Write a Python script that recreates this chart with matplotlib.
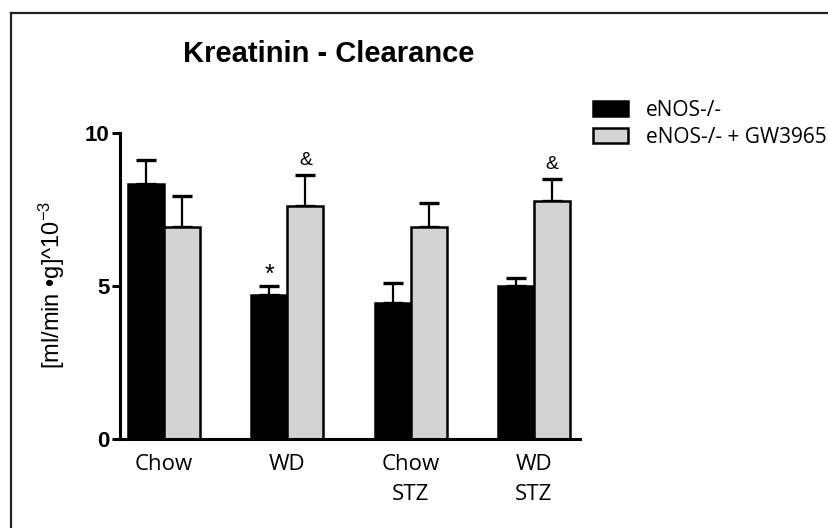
#!/usr/bin/env python3
"""Kreatinin clearance bar chart (eNOS-/- vs eNOS-/- + GW3965)."""

import numpy as np
import matplotlib
matplotlib.use("Agg")
import matplotlib.pyplot as plt
from matplotlib.lines import Line2D

# data
groups = ["Chow", "WD", "Chow\nSTZ", "WD\nSTZ"]
series_names = ["eNOS-/-", "eNOS-/- + GW3965"]
enos_mean = [8.32, 4.70, 4.43, 4.99]
enos_sem = [0.77, 0.30, 0.67, 0.25]
gw_mean = [6.93, 7.59, 6.93, 7.77]
gw_sem = [1.00, 1.01, 0.78, 0.70]
y_ticks = [0, 5, 10]

# (group index, series index, symbol)
marks = [(1, 0, "*"), (1, 1, "&"), (3, 1, "&")]

SANS = "Liberation Sans"
HUMAN = "Open Sans"

plt.rcParams["mathtext.fontset"] = "custom"
plt.rcParams["mathtext.rm"] = SANS
plt.rcParams["mathtext.it"] = SANS + ":italic"
plt.rcParams["mathtext.bf"] = SANS + ":bold"


def main():
    fig = plt.figure(figsize=(8.29, 5.28), dpi=100)
    ax = fig.add_axes([0.1448, 0.1686, 0.5549, 0.5804])

    x = np.arange(len(groups))
    w = 0.292
    means = [enos_mean, gw_mean]
    sems = [enos_sem, gw_sem]
    colors = ["black", "#d3d3d3"]

    for k in range(2):
        xs = x + (k - 0.5) * w
        ax.bar(xs, means[k], width=w, color=colors[k], edgecolor="black",
               linewidth=1.8, label=series_names[k], zorder=2)
        ax.errorbar(xs, means[k], yerr=[np.zeros(len(groups)), sems[k]],
                    fmt="none", ecolor="black", elinewidth=1.6,
                    capsize=7.2, capthick=2.4, zorder=1)

    # significance marks
    sizes = {"*": 18, "&": 14}
    offs = {"*": 2.5, "&": 7.5}
    for g, s, sym in marks:
        top = means[s][g] + sems[s][g]
        ax.annotate(sym, (x[g] + (s - 0.5) * w, top), xytext=(0, offs[sym]),
                    textcoords="offset points", ha="center", va="baseline",
                    fontsize=sizes[sym], family=SANS)

    ax.set_xlim(-0.357, 3.374)
    ax.set_ylim(0, 10)
    ax.set_yticks(y_ticks)
    ax.set_yticklabels([str(v) for v in y_ticks], fontsize=16,
                       fontweight="bold", family=SANS)
    ax.tick_params(axis="y", length=6, width=2.2, pad=1.5)
    ax.set_xticks(x)
    ax.set_xticklabels(groups, fontsize=16, family=HUMAN, linespacing=1.55)
    ax.tick_params(axis="x", length=0, pad=11)

    for side in ("top", "right"):
        ax.spines[side].set_visible(False)
    for side in ("left", "bottom"):
        ax.spines[side].set_linewidth(2.2)

    fig.text(52 / 829, (528 - 285) / 528, r"[ml/min •g]^10$^{-3}$",
             rotation=90, ha="center", va="center", fontsize=17, family=SANS)

    fig.text(329 / 829, (528 - 62) / 528, "Kreatinin - Clearance",
             ha="center", va="baseline", fontsize=21, fontweight="bold",
             family=SANS)

    ax.legend(loc="upper left", bbox_to_anchor=(593 / 829, (528 - 99.5) / 528),
              bbox_transform=fig.transFigure, frameon=False,
              prop={"family": HUMAN, "size": 15}, handlelength=1.68,
              handleheight=0.72, handletextpad=0.85, labelspacing=0.3,
              borderpad=0, borderaxespad=0)

    # outer frame (only top and left edges visible)
    fy = (528 - 13) / 528
    fx = 11 / 829
    fig.add_artist(Line2D([fx, 1.0], [fy, fy], color="#222222", lw=1.6,
                          transform=fig.transFigure))
    fig.add_artist(Line2D([fx, fx], [0.0, fy], color="#222222", lw=1.6,
                          transform=fig.transFigure))

    fig.savefig("out.png", dpi=100)


if __name__ == "__main__":
    main()
